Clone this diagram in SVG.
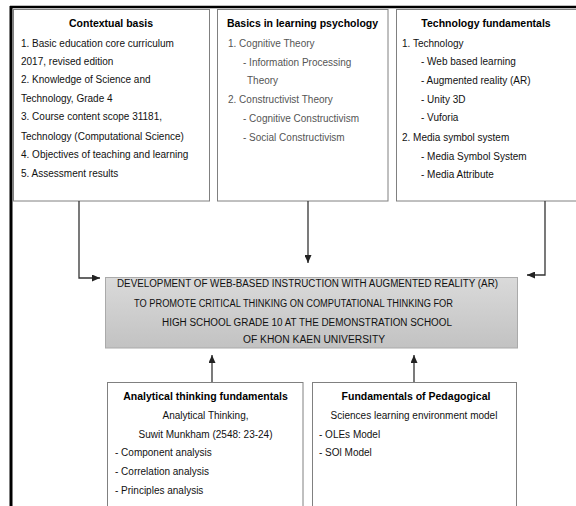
<svg xmlns="http://www.w3.org/2000/svg" width="576" height="506" viewBox="0 0 576 506">
<style>
text{font-family:"Liberation Sans",Arial,sans-serif;font-size:10px;fill:#111}
.t{font-weight:bold;font-size:10.5px;text-anchor:middle;fill:#000}
.g{fill:#555}
.m{text-anchor:middle}
.box{fill:#fff;stroke:#808080;stroke-width:1}
.c{fill:none;stroke:#333;stroke-width:1.3}
.cap{font-size:10px;fill:#111}
</style>
<defs>
<marker id="ah" markerUnits="userSpaceOnUse" markerWidth="8" markerHeight="7" refX="8" refY="3.5" orient="auto">
<path d="M0,0 L8,3.5 L0,7 z" fill="#222"/>
</marker>
<linearGradient id="gr" x1="0" y1="0" x2="0" y2="1">
<stop offset="0" stop-color="#dadada"/>
<stop offset="1" stop-color="#c2c2c2"/>
</linearGradient>
</defs>
<rect width="576" height="506" fill="#fff"/>
<g id="frame">
<line x1="10" y1="7" x2="576" y2="7" stroke="#000" stroke-width="2.5"/>
<line x1="11" y1="6" x2="11" y2="506" stroke="#000" stroke-width="3"/>
</g>
<g id="contextual">
<rect class="box" x="13.5" y="9.5" width="196" height="191.5"/>
<text class="t" x="111" y="27">Contextual basis</text>
<text x="21" y="47">1. Basic education core curriculum</text>
<text x="21" y="65">2017, revised edition</text>
<text x="21" y="83">2. Knowledge of Science and</text>
<text x="21" y="102">Technology, Grade 4</text>
<text x="21" y="120">3. Course content scope 31181,</text>
<text x="21" y="140">Technology (Computational Science)</text>
<text x="21" y="158">4. Objectives of teaching and learning</text>
<text x="21" y="177">5. Assessment results</text>
</g>
<g id="psychology">
<rect class="box" x="217.5" y="9.5" width="170.5" height="191.5"/>
<text class="t" x="302.5" y="27">Basics in learning psychology</text>
<text class="g" x="228" y="47">1.  Cognitive Theory</text>
<text class="g" x="243" y="66">- Information Processing</text>
<text class="g" x="247" y="84">Theory</text>
<text class="g" x="228" y="103">2.  Constructivist Theory</text>
<text class="g" x="243" y="122">- Cognitive Constructivism</text>
<text class="g" x="243" y="141">- Social Constructivism</text>
</g>
<g id="technology">
<rect class="box" x="396.5" y="9.5" width="185" height="191.5"/>
<text class="t" x="486" y="27">Technology fundamentals</text>
<text x="402" y="47" fill="#333">1. Technology</text>
<text x="421" y="65" fill="#333">- Web based learning</text>
<text x="421" y="84" fill="#333">- Augmented reality (AR)</text>
<text x="421" y="103" fill="#333">- Unity 3D</text>
<text x="421" y="121" fill="#333">- Vuforia</text>
<text x="402" y="141" fill="#333">2. Media symbol system</text>
<text x="421" y="160" fill="#333">- Media Symbol System</text>
<text x="421" y="178" fill="#333">- Media Attribute</text>
</g>
<g id="central">
<rect x="105.5" y="277.5" width="412" height="70.5" fill="url(#gr)" stroke="#aaa" stroke-width="1"/>
<text class="cap" x="117" y="287" textLength="381" lengthAdjust="spacingAndGlyphs">DEVELOPMENT OF WEB-BASED INSTRUCTION WITH AUGMENTED REALITY (AR)</text>
<text class="cap" x="134" y="307" textLength="319" lengthAdjust="spacingAndGlyphs">TO PROMOTE CRITICAL THINKING ON COMPUTATIONAL THINKING FOR</text>
<text class="cap" x="162" y="325.5" textLength="290" lengthAdjust="spacingAndGlyphs">HIGH SCHOOL GRADE 10 AT THE DEMONSTRATION SCHOOL</text>
<text class="cap" x="243" y="343" textLength="142" lengthAdjust="spacingAndGlyphs">OF KHON KAEN UNIVERSITY</text>
</g>
<g id="analytical">
<rect class="box" x="107.5" y="382.5" width="195.5" height="130"/>
<text class="t" x="205.5" y="400">Analytical thinking fundamentals</text>
<text class="m" x="205.5" y="419">Analytical Thinking,</text>
<text class="m" x="205.5" y="438">Suwit Munkham (2548: 23-24)</text>
<text x="115" y="456">- Component analysis</text>
<text x="115" y="475">- Correlation analysis</text>
<text x="115" y="494">- Principles analysis</text>
</g>
<g id="pedagogical">
<rect class="box" x="312.5" y="382.5" width="204" height="130"/>
<text class="t" x="416" y="400">Fundamentals of Pedagogical</text>
<text class="m" x="414" y="419">Sciences learning environment model</text>
<text x="319" y="438">- OLEs Model</text>
<text x="319" y="456">- SOl Model</text>
</g>
<g id="connectors">
<path class="c" d="M79,201 V278 H100" marker-end="url(#ah)"/>
<path class="c" d="M308,201 V263" marker-end="url(#ah)"/>
<path class="c" d="M545,201 V275 H527" marker-end="url(#ah)"/>
<path class="c" d="M212,382 V355" marker-end="url(#ah)"/>
<path class="c" d="M414,382 V355" marker-end="url(#ah)"/>
</g>
</svg>
